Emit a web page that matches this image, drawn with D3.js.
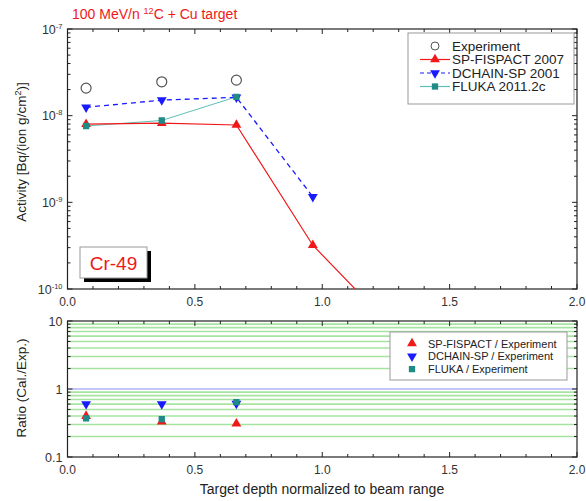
<!DOCTYPE html>
<html>
<head>
<meta charset="utf-8">
<script src="https://cdn.jsdelivr.net/npm/d3@7"></script>
<style>
  body { margin: 0; background: #fff; }
  svg { font-family: "Liberation Sans", Arial, sans-serif; }
</style>
</head>
<body>
<div id="chart"></div>
<script>
// data
const depth = [0.073, 0.37, 0.663, 0.963, 1.26];
const experiment = [2.08e-8, 2.46e-8, 2.57e-8];
const spFispact = [8.0e-9, 8.2e-9, 7.8e-9, 3.2e-10, 4.0e-11];
const dchain = [1.25e-8, 1.51e-8, 1.63e-8, 1.16e-9];
const fluka = [7.6e-9, 8.8e-9, 1.65e-8];
const ratioSp = [0.40, 0.33, 0.31];
const ratioDchain = [0.60, 0.60, 0.61];
const ratioFluka = [0.37, 0.36, 0.64];
const xTickLabels = ["0.0", "0.5", "1.0", "1.5", "2.0"];

const width = 586, height = 501;
const red = "#f01818", blue = "#1a1aff", teal = "#1f8a86";

const svg = d3.select("#chart").append("svg")
  .attr("width", width).attr("height", height);

const x = d3.scaleLinear().domain([0, 2]).range([67.5, 577]);
const yTop = d3.scaleLog().domain([1e-10, 1e-7]).range([289, 29]);
const yBot = d3.scaleLog().domain([0.1, 10]).range([457, 321]);

// title
const title = svg.append("text").attr("x", 72).attr("y", 19)
  .attr("fill", red).attr("font-size", 14);
title.append("tspan").text("100 MeV/n ");
title.append("tspan").attr("font-size", 9).attr("dy", -5).text("12");
title.append("tspan").attr("dy", 5).text("C + Cu target");

// green grid lines of the ratio panel
const ratioGrid = [];
[0.1, 1].forEach(function(dec) {
  for (let k = 2; k <= 9; k++) ratioGrid.push(k * dec);
});
svg.append("g").selectAll("line").data(ratioGrid).enter().append("line")
  .attr("x1", x(0)).attr("x2", x(2))
  .attr("y1", d => yBot(d)).attr("y2", d => yBot(d))
  .attr("stroke", "#a6e3a0").attr("stroke-width", 1.6);
svg.append("line").attr("x1", x(0)).attr("x2", x(2))
  .attr("y1", yBot(1)).attr("y2", yBot(1))
  .attr("stroke", "#8a8ef0").attr("stroke-width", 1.2);

function drawFrame(y, top, bottom, yLabels) {
  const g = svg.append("g").attr("stroke", "#222").attr("fill", "none");
  g.append("rect").attr("x", x(0)).attr("y", top)
    .attr("width", x(2) - x(0)).attr("height", bottom - top).attr("stroke-width", 1.2);
  // x ticks, inward on both edges
  const minor = d3.range(0, 21).map(d => d / 10);
  minor.forEach(function(v) {
    const len = (Math.round(v * 10) % 5 === 0) ? 5 : 3;
    g.append("line").attr("x1", x(v)).attr("x2", x(v)).attr("y1", bottom).attr("y2", bottom - len);
    g.append("line").attr("x1", x(v)).attr("x2", x(v)).attr("y1", top).attr("y2", top + len);
  });
  // y ticks on log axis
  const dom = y.domain();
  const lo = Math.round(Math.log10(dom[0])), hi = Math.round(Math.log10(dom[1]));
  for (let e = lo; e <= hi; e++) {
    for (let k = 1; k <= 9; k++) {
      const v = k * Math.pow(10, e);
      if (v > dom[1] * 1.0001) break;
      const len = k === 1 ? 5 : 3;
      g.append("line").attr("x1", x(0)).attr("x2", x(0) + len).attr("y1", y(v)).attr("y2", y(v));
      g.append("line").attr("x1", x(2)).attr("x2", x(2) - len).attr("y1", y(v)).attr("y2", y(v));
    }
  }
  // x tick labels
  svg.append("g").selectAll("text").data(xTickLabels).enter().append("text")
    .attr("x", (d, i) => x(i * 0.5)).attr("y", bottom + 17)
    .attr("text-anchor", "middle").attr("font-size", 12).attr("fill", "#333")
    .text(d => d);
  // y tick labels
  yLabels.forEach(function(l) {
    const t = svg.append("text").attr("x", x(0) - 5).attr("y", y(l.v) + 4.5)
      .attr("text-anchor", "end").attr("font-size", 12.5).attr("fill", "#333");
    if (l.exp) {
      t.append("tspan").text("10");
      t.append("tspan").attr("font-size", 7.5).attr("dy", -5).text(l.exp);
    } else {
      t.text(l.text);
    }
  });
}

drawFrame(yTop, 29, 289, [
  { v: 1e-7, exp: "-7" }, { v: 1e-8, exp: "-8" }, { v: 1e-9, exp: "-9" }, { v: 1e-10, exp: "-10" }
]);
drawFrame(yBot, 321, 457, [
  { v: 10, text: "10" }, { v: 1, text: "1" }, { v: 0.1, text: "0.1" }
]);

// axis titles
const yt = svg.append("text").attr("transform", "translate(26,152) rotate(-90)")
  .attr("text-anchor", "middle").attr("font-size", 13.5).attr("fill", "#222");
yt.append("tspan").text("Activity [Bq/(ion g/cm");
yt.append("tspan").attr("font-size", 9).attr("dy", -5).text("2");
yt.append("tspan").attr("dy", 5).text(")]");
svg.append("text").attr("transform", "translate(26,388) rotate(-90)")
  .attr("text-anchor", "middle").attr("font-size", 13.5).attr("fill", "#222")
  .text("Ratio (Cal./Exp.)");
svg.append("text").attr("x", 322).attr("y", 494).attr("text-anchor", "middle")
  .attr("font-size", 14).attr("fill", "#222").text("Target depth normalized to beam range");

// clip for the activity panel
svg.append("clipPath").attr("id", "clipTop").append("rect")
  .attr("x", x(0)).attr("y", 29).attr("width", x(2) - x(0)).attr("height", 260);

const plot = svg.append("g").attr("clip-path", "url(#clipTop)");
const line = d3.line().x(d => x(d[0])).y(d => yTop(d[1]));
const pairs = vals => vals.map((v, i) => [depth[i], v]);

plot.append("path").datum(pairs(fluka)).attr("d", line)
  .attr("fill", "none").attr("stroke", "#5fbfb8").attr("stroke-width", 1);
plot.append("path").datum(pairs(spFispact)).attr("d", line)
  .attr("fill", "none").attr("stroke", red).attr("stroke-width", 1.2);
plot.append("path").datum(pairs(dchain)).attr("d", line)
  .attr("fill", "none").attr("stroke", blue).attr("stroke-width", 1.3)
  .attr("stroke-dasharray", "5,4");

const triUp = d3.symbol().type(d3.symbolTriangle).size(42);
const square = d3.symbol().type(d3.symbolSquare).size(40);

function markUp(g, pts, color) {
  g.selectAll(null).data(pts).enter().append("path").attr("d", triUp)
    .attr("transform", d => "translate(" + d[0] + "," + d[1] + ")").attr("fill", color);
}
function markDown(g, pts, color) {
  g.selectAll(null).data(pts).enter().append("path").attr("d", triUp)
    .attr("transform", d => "translate(" + d[0] + "," + d[1] + ") rotate(180)").attr("fill", color);
}
function markSquare(g, pts, color) {
  g.selectAll(null).data(pts).enter().append("path").attr("d", square)
    .attr("transform", d => "translate(" + d[0] + "," + d[1] + ")").attr("fill", color);
}
const topPts = vals => vals.map((v, i) => [x(depth[i]), yTop(v)]);
const botPts = vals => vals.map((v, i) => [x(depth[i]), yBot(v)]);

plot.selectAll(null).data(topPts(experiment)).enter().append("circle")
  .attr("cx", d => d[0]).attr("cy", d => d[1]).attr("r", 5)
  .attr("fill", "#fff").attr("stroke", "#555").attr("stroke-width", 1.2);
markUp(plot, topPts(spFispact), red);
markDown(plot, topPts(dchain), blue);
markSquare(plot, topPts(fluka), teal);

// ratio markers
markUp(svg, botPts(ratioSp), red);
markDown(svg, botPts(ratioDchain), blue);
markSquare(svg, botPts(ratioFluka), teal);

// activity legend
const leg = svg.append("g");
leg.append("rect").attr("x", 408).attr("y", 33).attr("width", 166).attr("height", 71)
  .attr("fill", "#fff").attr("stroke", "#999");
const legItems = [
  { name: "Experiment", kind: "circle" },
  { name: "SP-FISPACT 2007", kind: "up", color: red, dash: null },
  { name: "DCHAIN-SP 2001", kind: "down", color: blue, dash: "4,3" },
  { name: "FLUKA 2011.2c", kind: "square", color: teal, line: "#5fbfb8" }
];
legItems.forEach(function(it, i) {
  const cy = 46 + i * 13.5;
  if (it.kind !== "circle") {
    leg.append("line").attr("x1", 420).attr("x2", 450).attr("y1", cy).attr("y2", cy)
      .attr("stroke", it.line || it.color).attr("stroke-width", 1.2)
      .attr("stroke-dasharray", it.dash || null);
  }
  if (it.kind === "circle") {
    leg.append("circle").attr("cx", 435).attr("cy", cy).attr("r", 4)
      .attr("fill", "#fff").attr("stroke", "#555");
  } else if (it.kind === "up") markUp(leg, [[435, cy]], it.color);
  else if (it.kind === "down") markDown(leg, [[435, cy]], it.color);
  else markSquare(leg, [[435, cy]], it.color);
  leg.append("text").attr("x", 452).attr("y", cy + 4.8).attr("font-size", 13.5)
    .attr("fill", "#222").text(it.name);
});

// ratio legend
const leg2 = svg.append("g");
leg2.append("rect").attr("x", 390).attr("y", 332).attr("width", 177).attr("height", 48)
  .attr("fill", "#fff").attr("stroke", "#999");
const leg2Items = [
  { name: "SP-FISPACT / Experiment", kind: "up", color: red },
  { name: "DCHAIN-SP / Experiment", kind: "down", color: blue },
  { name: "FLUKA / Experiment", kind: "square", color: teal }
];
leg2Items.forEach(function(it, i) {
  const cy = 343.5 + i * 12.8;
  if (it.kind === "up") markUp(leg2, [[412, cy]], it.color);
  else if (it.kind === "down") markDown(leg2, [[412, cy]], it.color);
  else markSquare(leg2, [[412, cy]], it.color);
  leg2.append("text").attr("x", 428).attr("y", cy + 4).attr("font-size", 11)
    .attr("fill", "#222").text(it.name);
});

// nuclide label box with shadow
svg.append("rect").attr("x", 84).attr("y", 251).attr("width", 67).attr("height", 31).attr("fill", "#000");
svg.append("rect").attr("x", 80).attr("y", 247).attr("width", 67).attr("height", 31)
  .attr("fill", "#fff").attr("stroke", "#999");
svg.append("text").attr("x", 113.5).attr("y", 270).attr("text-anchor", "middle")
  .attr("font-size", 19).attr("fill", red).text("Cr-49");
</script>
</body>
</html>
